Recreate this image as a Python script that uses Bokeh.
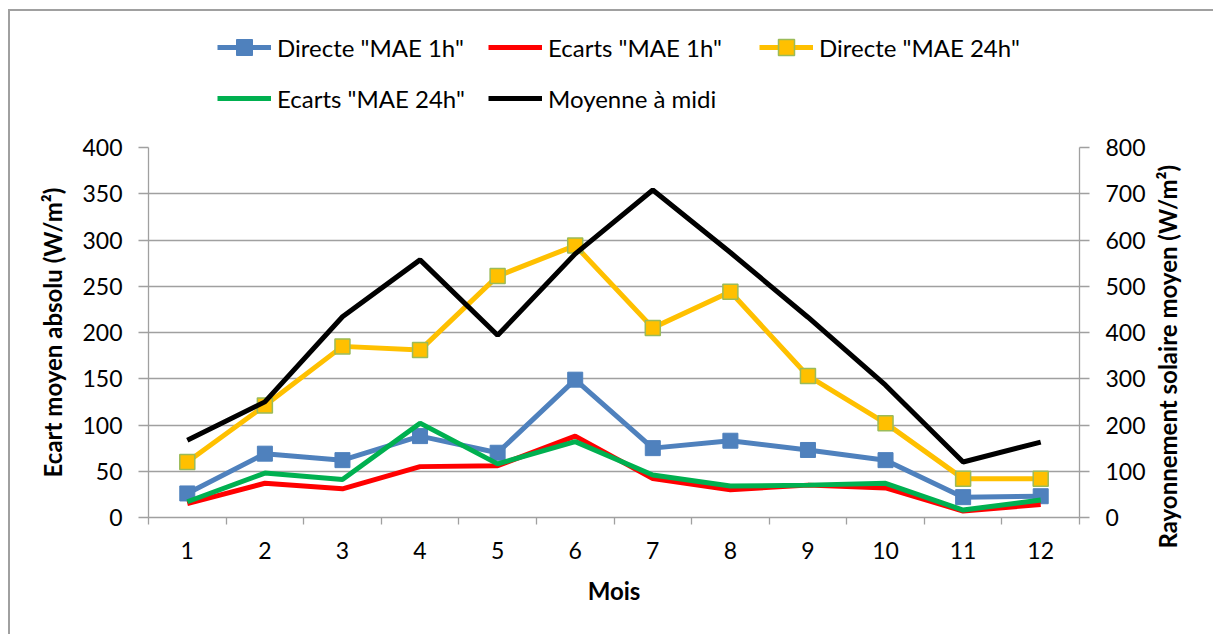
from bokeh.plotting import figure
from bokeh.layouts import column, row
from bokeh.models import Range1d, LinearAxis, FixedTicker, Legend, LegendItem, Title
from bokeh.embed import file_html
from bokeh.resources import INLINE

months = list(range(1, 13))
month_labels = [str(m) for m in months]
directe_1h = [26, 69, 62, 88, 70, 149, 75, 83, 73, 62, 22, 23]
ecarts_1h = [15, 37, 31, 55, 56, 88, 42, 30, 35, 32, 7, 14]
directe_24h = [60, 121, 185, 181, 261, 294, 205, 244, 153, 102, 42, 42]
ecarts_24h = [17, 48, 41, 102, 58, 82, 46, 34, 35, 37, 8, 19]
moyenne_midi = [167, 250, 434, 557, 394, 570, 708, 573, 433, 286, 120, 163]

left_ticks = [0, 50, 100, 150, 200, 250, 300, 350, 400]
right_ticks = [0, 100, 200, 300, 400, 500, 600, 700, 800]

FONT = "Lato"
GRAY = "#a0a0a0"
TICK_FS = "23px"
TITLE_FS = "24px"
LW = 5
BLUE, RED, YELLOW, GREEN, BLACK = "#4f81bd", "#ff0000", "#ffc000", "#00b050", "#000000"
MARK_EDGE = "#9bbb59"

W = 1213
W_R = 63
H_LEG = 120
H_MAIN = 634 - H_LEG
GRAD = "linear-gradient(#a0a0a0, #a0a0a0)"

# ---------------- main chart ----------------
p = figure(width=W - W_R, height=H_MAIN, output_backend="svg", toolbar_location=None,
           x_range=Range1d(0.5, 12.5), y_range=Range1d(0, 400),
           min_border_left=148, min_border_right=W - W_R - 1079, min_border_top=27,
           min_border_bottom=117)
p.outline_line_color = None
p.border_fill_color = None
p.background_fill_color = "white"
p.styles = {"background": f"{GRAD} 8px 0px / 2px 100% no-repeat, white"}
p.extra_y_ranges = {"right": Range1d(0, 800)}

xa = p.xaxis[0]
xa.ticker = FixedTicker(ticks=months, minor_ticks=[m + 0.5 for m in [0] + months])
xa.major_label_overrides = {m: l for m, l in zip(months, month_labels)}
xa.major_tick_out = 0
xa.major_tick_in = 0
xa.minor_tick_out = 7
xa.minor_tick_in = 0
xa.minor_tick_line_color = GRAY
xa.minor_tick_line_width = 1.3
xa.axis_line_color = GRAY
xa.axis_line_width = 1.3
xa.major_label_standoff = 17
xa.major_label_text_font = FONT
xa.major_label_text_font_size = TICK_FS
xa.major_label_text_color = "black"
xa.axis_label = "Mois"
xa.axis_label_text_font = FONT
xa.axis_label_text_font_size = TITLE_FS
xa.axis_label_text_font_style = "bold"
xa.axis_label_text_color = "black"
xa.axis_label_standoff = 14

ya = p.yaxis[0]
ya.ticker = FixedTicker(ticks=left_ticks)
ya.minor_tick_line_color = None
ya.major_tick_out = 10
ya.major_tick_in = 0
ya.major_tick_line_color = GRAY
ya.major_tick_line_width = 1.3
ya.axis_line_color = GRAY
ya.axis_line_width = 1.3
ya.major_label_standoff = 16
ya.major_label_text_font = FONT
ya.major_label_text_font_size = TICK_FS
ya.major_label_text_color = "black"
ya.axis_label = "Ecart moyen absolu (W/m²)"
ya.axis_label_text_font = FONT
ya.axis_label_text_font_size = TITLE_FS
ya.axis_label_text_font_style = "bold"
ya.axis_label_text_color = "black"
ya.axis_label_standoff = 12

ra = LinearAxis(y_range_name="right", ticker=FixedTicker(ticks=right_ticks))
ra.minor_tick_line_color = None
ra.major_tick_out = 10
ra.major_tick_in = 0
ra.major_tick_line_color = GRAY
ra.major_tick_line_width = 1.3
ra.axis_line_color = GRAY
ra.axis_line_width = 1.3
ra.major_label_standoff = 16
ra.major_label_text_font = FONT
ra.major_label_text_font_size = TICK_FS
ra.major_label_text_color = "black"
p.add_layout(ra, "right")

p.xgrid.grid_line_color = None
p.ygrid.grid_line_color = GRAY
p.ygrid.grid_line_width = 1.3

p.line(months, directe_1h, line_color=BLUE, line_width=LW)
p.scatter(months, directe_1h, marker="square", size=15, fill_color=BLUE, line_color=BLUE)
p.line(months, ecarts_1h, line_color=RED, line_width=LW)
p.line(months, directe_24h, line_color=YELLOW, line_width=LW)
p.scatter(months, directe_24h, marker="square", size=15, fill_color=YELLOW,
          line_color=MARK_EDGE, line_width=1.5)
p.line(months, ecarts_24h, line_color=GREEN, line_width=LW)
p.line(months, moyenne_midi, line_color=BLACK, line_width=LW, y_range_name="right")

# ---------------- right title strip ----------------
r = figure(width=W_R, height=H_MAIN, output_backend="svg", toolbar_location=None,
           x_range=Range1d(0, 1), y_range=Range1d(0, 1),
           min_border_left=0, min_border_right=0, min_border_top=27, min_border_bottom=117)
r.axis.visible = False
r.grid.visible = False
r.outline_line_color = None
r.border_fill_color = None
r.background_fill_color = None
r.styles = {"background": "white"}
rt = Title(text="Rayonnement solaire moyen (W/m²)", align="left",
           text_font=FONT, text_font_size=TITLE_FS, text_font_style="bold",
           text_color="black", standoff=0, offset=-31)
r.add_layout(rt, "left")
r.title.visible = False

# ---------------- legend strip ----------------
q = figure(width=W, height=H_LEG, output_backend="svg", toolbar_location=None,
           x_range=Range1d(-3, -2), y_range=Range1d(-3, -2),
           min_border_left=148, min_border_right=W - 1079, min_border_top=0, min_border_bottom=0)
q.axis.visible = False
q.grid.visible = False
q.outline_line_color = None
q.border_fill_color = None
q.background_fill_color = None
q.styles = {"background": f"{GRAD} 8px 9px / 2px 100% no-repeat, "
                          f"{GRAD} 8px 9px / 100% 2px no-repeat, white"}

# legend glyph renderers (same series, outside this strip's visible ranges)
g1 = q.line(months, directe_1h, line_color=BLUE, line_width=LW)
k1 = q.scatter(months, directe_1h, marker="square", size=15, fill_color=BLUE, line_color=BLUE)
g2 = q.line(months, ecarts_1h, line_color=RED, line_width=LW)
g3 = q.line(months, directe_24h, line_color=YELLOW, line_width=LW)
k3 = q.scatter(months, directe_24h, marker="square", size=15, fill_color=YELLOW,
               line_color=MARK_EDGE, line_width=1.5)
g4 = q.line(months, ecarts_24h, line_color=GREEN, line_width=LW)
g5 = q.line(months, moyenne_midi, line_color=BLACK, line_width=LW)

# column-major fill: rows read D1h, E1h, D24h / E24h, Moyenne
legend = Legend(items=[
    LegendItem(label='Directe "MAE 1h"', renderers=[g1, k1]),
    LegendItem(label='Ecarts "MAE 24h"', renderers=[g4]),
    LegendItem(label='Ecarts "MAE 1h"', renderers=[g2]),
    LegendItem(label='Moyenne à midi', renderers=[g5]),
    LegendItem(label='Directe "MAE 24h"', renderers=[g3, k3]),
], ncols=3, location=(217 - 148, 2))
legend.label_text_font = FONT
legend.label_text_font_size = "24px"
legend.label_text_color = "black"
legend.label_width = 200
legend.label_height = 40
legend.label_standoff = 6
legend.glyph_width = 54
legend.glyph_height = 40
legend.spacing = 11
legend.border_line_color = None
legend.background_fill_alpha = 0
legend.padding = 0
legend.margin = 0
q.add_layout(legend)

layout = column(q, row(p, r, spacing=0), spacing=0)
open("out.html", "w").write(file_html(layout, INLINE))
